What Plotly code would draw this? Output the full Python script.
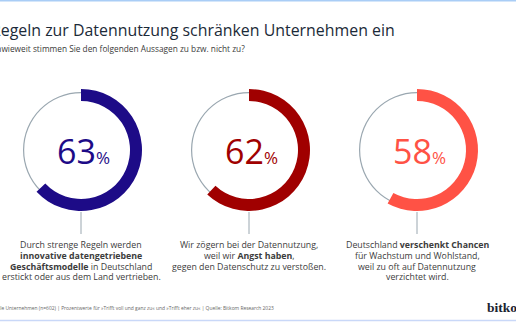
import plotly.graph_objects as go

W, H = 516, 323

# Data
shares = [63, 62, 58]
colors = ["#1d0b87", "#a00000", "#ff5245"]
ring_gray = "#9aa7b0"
texts = [
    ["Durch strenge Regeln werden", "<b>innovative datengetriebene</b>",
     "<b>Geschäftsmodelle</b> in Deutschland", "erstickt oder aus dem Land vertrieben."],
    ["Wir zögern bei der Datennutzung,", "weil wir <b>Angst haben</b>,",
     "gegen den Datenschutz zu verstoßen."],
    ["Deutschland <b>verschenkt Chancen</b>", "für Wachstum und Wohlstand,",
     "weil zu oft auf Datennutzung", "verzichtet wird."],
]
title = "Regeln zur Datennutzung schränken Unternehmen ein"
subtitle = "Inwieweit stimmen Sie den folgenden Aussagen zu bzw. nicht zu?"
footer = ("Basis: alle Unternehmen (n=602) | Prozentwerte für »Trifft voll und ganz zu« "
          "und »Trifft eher zu« | Quelle: Bitkom Research 2023")
logo = "bitkom"

FONT = "Open Sans"
centers_x = [81, 249, 417]
cy = 150
R_out = 61
R_in = 49
R_thin = 58

def px_dom(cx, cy_top, r):
    x0, x1 = (cx - r) / W, (cx + r) / W
    yb = H - cy_top
    y0, y1 = (yb - r) / H, (yb + r) / H
    return dict(x=[x0, x1], y=[y0, y1])

fig = go.Figure()
for i, v in enumerate(shares):
    cx = centers_x[i]
    fig.add_trace(go.Pie(
        values=[100], domain=px_dom(cx, cy, R_thin), hole=1 - 1.2 / R_thin,
        marker=dict(colors=[ring_gray], line=dict(width=0)),
        textinfo="none", hoverinfo="skip", sort=False, showlegend=False))
    fig.add_trace(go.Pie(
        values=[v, 100 - v], domain=px_dom(cx, cy, R_out), hole=R_in / R_out,
        marker=dict(colors=[colors[i], "rgba(0,0,0,0)"], line=dict(width=0)),
        textinfo="none", hoverinfo="skip", sort=False, direction="clockwise",
        rotation=0, showlegend=False))

annotations = []
shapes = []
for i, v in enumerate(shares):
    cx = centers_x[i]
    annotations.append(dict(
        x=cx / W + 0.004, y=(H - cy - 1) / H, xref="paper", yref="paper",
        text=f"{v}<span style='font-size:17px'>%</span>", showarrow=False,
        font=dict(family=FONT, size=34, color=colors[i]),
        xanchor="center", yanchor="middle"))
    shapes.append(dict(type="line", xref="paper", yref="paper",
                       x0=cx / W, x1=cx / W, y0=(H - 212) / H, y1=(H - 234) / H,
                       line=dict(color=ring_gray, width=1)))
    for j, line in enumerate(texts[i]):
        annotations.append(dict(
            x=cx / W, y=(H - (245 + 10.8 * j)) / H, xref="paper", yref="paper",
            text=line, showarrow=False, align="center", borderpad=0,
            font=dict(family=FONT, size=8.8, color="#3c3c3c"),
            xanchor="center", yanchor="middle"))

annotations += [
    dict(x=-11 / W, y=(H - 30) / H, xref="paper", yref="paper", text=title,
         showarrow=False, xanchor="left", yanchor="middle",
         font=dict(family=FONT, size=15.9, color="#1b2a38")),
    dict(x=-8 / W, y=(H - 49) / H, xref="paper", yref="paper", text=subtitle,
         showarrow=False, xanchor="left", yanchor="middle",
         font=dict(family=FONT, size=8.3, color="#3a3a3a")),
    dict(x=-20 / W, y=(H - 308) / H, xref="paper", yref="paper", text=footer,
         showarrow=False, xanchor="left", yanchor="middle",
         font=dict(family=FONT, size=4.9, color="#666666")),
    dict(x=485 / W, y=(H - 307) / H, xref="paper", yref="paper", text=f"<b>{logo}</b>",
         showarrow=False, xanchor="left", yanchor="middle",
         font=dict(family="Liberation Serif", size=13.5, color="#1a2330")),
]

shapes += [
    dict(type="line", xref="paper", yref="paper", x0=0, x1=1,
         y0=(H - 0.75) / H, y1=(H - 0.75) / H, line=dict(color="#a9cdf6", width=1.5)),
    dict(type="line", xref="paper", yref="paper", x0=0, x1=1,
         y0=(H - 320.5) / H, y1=(H - 320.5) / H, line=dict(color="#c9d8f8", width=1.5)),
]

fig.update_layout(
    width=W, height=H, margin=dict(l=0, r=0, t=0, b=0),
    paper_bgcolor="white", plot_bgcolor="white",
    annotations=annotations, shapes=shapes, showlegend=False,
)
fig.write_html("out.html")
